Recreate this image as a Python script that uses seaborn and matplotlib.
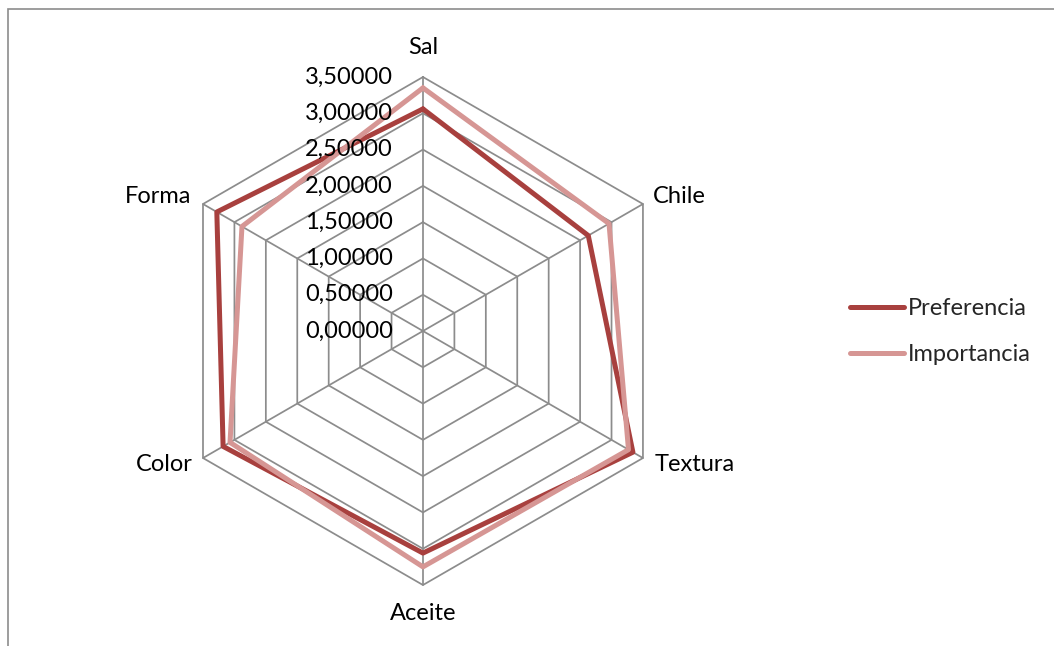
import numpy as np
import pandas as pd
import matplotlib
matplotlib.use("Agg")
import matplotlib.pyplot as plt
import seaborn as sns
from matplotlib.patches import Rectangle
from matplotlib.lines import Line2D

# Data
categorias = ["Sal", "Chile", "Textura", "Aceite", "Color", "Forma"]
preferencia = [3.06, 2.63, 3.34, 3.06, 3.18, 3.28]
importancia = [3.35, 2.96, 3.27, 3.25, 3.07, 2.88]
niveles = [0.0, 0.5, 1.0, 1.5, 2.0, 2.5, 3.0, 3.5]
etiquetas_niveles = ["0,00000", "0,50000", "1,00000", "1,50000",
                     "2,00000", "2,50000", "3,00000", "3,50000"]

sns.set_theme(style="white")
plt.rcParams["font.family"] = ["Lato", "DejaVu Sans"]

n = len(categorias)
angulos = [2 * np.pi * i / n for i in range(n)]
ang_cerrado = angulos + [2 * np.pi]

filas = []
for serie, vals in [("Preferencia", preferencia), ("Importancia", importancia)]:
    for i, (a, v) in enumerate(zip(ang_cerrado, vals + vals[:1])):
        filas.append({"theta": a, "valor": v, "serie": serie, "orden": i})
df = pd.DataFrame(filas)

colores = {"Preferencia": "#A8403E", "Importancia": "#D69694"}

fig = plt.figure(figsize=(10.54, 6.46), dpi=100)
ax = fig.add_axes([0.1603, 0.0944, 0.482, 0.7864], projection="polar")
ax.set_theta_zero_location("N")
ax.set_theta_direction(-1)
ax.set_ylim(0, 3.5)
ax.grid(False)
ax.spines["polar"].set_visible(False)
ax.set_xticks([])
ax.set_yticks([])
ax.set_facecolor("none")

gris = "#8c8c8c"
# hexagonal rings
for lv in niveles[1:]:
    ax.plot(ang_cerrado, [lv] * (n + 1), color=gris, lw=1.25, clip_on=False, zorder=1)
# spokes
for a in angulos:
    ax.plot([a, a], [0, niveles[-1]], color=gris, lw=1.25, clip_on=False, zorder=1)

sns.lineplot(data=df, x="theta", y="valor", hue="serie", palette=colores,
             sort=False, estimator=None, units="serie", lw=3.6, ax=ax,
             legend=False, zorder=3)
for ln in ax.lines:
    ln.set_clip_on(False)
ax.set_xlabel("")
ax.set_ylabel("")

fs = 17
# radial value labels next to the top spoke
for lv, lab in zip(niveles, etiquetas_niveles):
    ax.annotate(lab, xy=(0, lv), xytext=(-30, 0), textcoords="offset pixels",
                ha="right", va="center", fontsize=fs, color="black")

# category labels
offsets = [(0, 30, "center"), (10, 8, "left"), (12, -6, "left"),
           (0, -28, "center"), (-10, -6, "right"), (-12, 8, "right")]
for a, cat, (dx, dy, ha) in zip(angulos, categorias, offsets):
    ax.annotate(cat, xy=(a, niveles[-1]), xytext=(dx, dy), textcoords="offset pixels",
                ha=ha, va="center", fontsize=fs, color="black")

handles = [Line2D([], [], color=colores[s], lw=3.6) for s in ["Preferencia", "Importancia"]]
fig.legend(handles, ["Preferencia", "Importancia"], loc="center left",
           bbox_to_anchor=(0.786, 0.487), frameon=False, fontsize=fs,
           handlelength=2.3, handletextpad=0.15, labelspacing=1.05)

fig.patches.append(Rectangle((0.0076, -0.05), 1.1, 1.036, transform=fig.transFigure,
                             fill=False, ec=gris, lw=1.2))

fig.savefig("out.png", dpi=100, facecolor="white")
